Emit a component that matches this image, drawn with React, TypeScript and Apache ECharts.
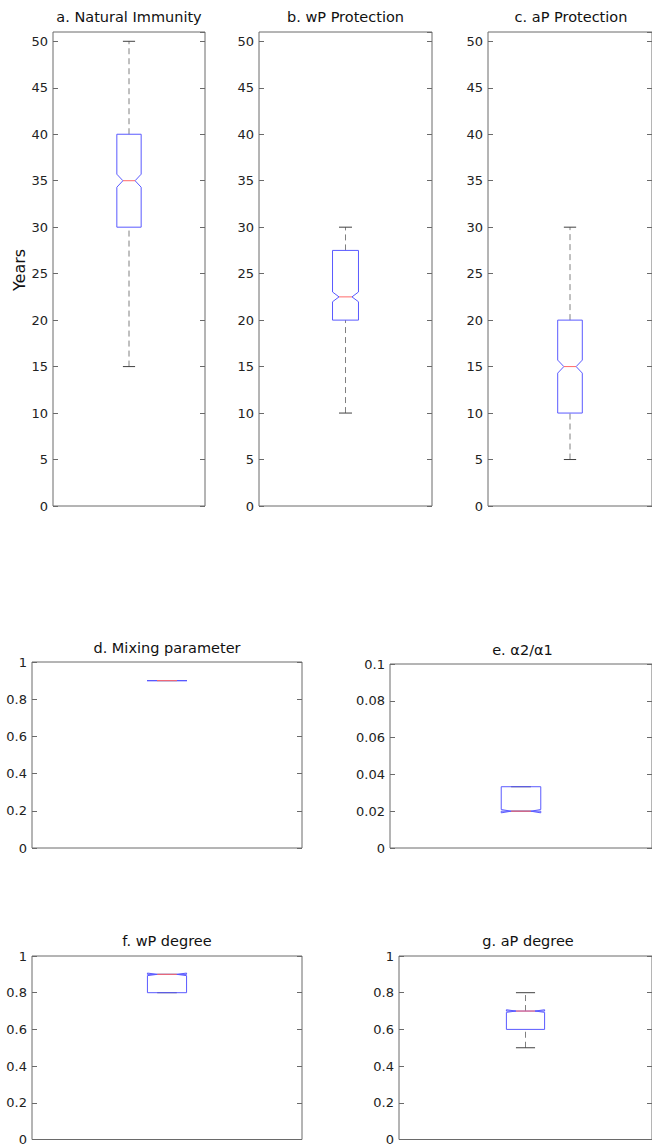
import React, { useEffect, useRef } from "react";
import * as echarts from "echarts";

// ---- data ----
const panelTitles = [
  "a. Natural Immunity",
  "b. wP Protection",
  "c. aP Protection",
  "d. Mixing parameter",
  "e. α2/α1",
  "f. wP degree",
  "g. aP degree",
];
const whiskerLow = [15, 10, 5, 0.9, 0.02, 0.8, 0.5];
const quartile1 = [30, 20, 10, 0.9, 0.02, 0.8, 0.6];
const medians = [35, 22.5, 15, 0.9, 0.02, 0.9, 0.7];
const quartile3 = [40, 27.5, 20, 0.9, 0.0333, 0.9, 0.7];
const whiskerHigh = [50, 30, 30, 0.9, 0.0333, 0.9, 0.8];
const notchHalf = [0.7, 0.525, 0.7, 0, 0.0009, 0.007, 0.007];
const yMin = [0, 0, 0, 0, 0, 0, 0];
const yMax = [51, 51, 51, 1, 0.1, 1, 1];
const yStep = [5, 5, 5, 0.2, 0.02, 0.2, 0.2];
const yAxisTitle = "Years";

// ---- layout / styles ----
const grids = [
  { left: 53, top: 32, width: 152, height: 474 },
  { left: 259, top: 32, width: 173, height: 474 },
  { left: 488, top: 32, width: 166, height: 474 },
  { left: 32, top: 662, width: 270, height: 186 },
  { left: 390, top: 664, width: 265, height: 184 },
  { left: 32, top: 956, width: 270, height: 184 },
  { left: 399, top: 956, width: 258, height: 185 },
];
const boxWidths = [0.16, 0.15, 0.15, 0.148, 0.151, 0.145, 0.151];
const titleY = [16.5, 16.5, 16.5, 648, 650, 941, 941];

const FONT = "DejaVu Sans";
const BOX_COLOR = "#5a5aff";
const MED_COLOR = "#ff6a6a";
const WHISK_COLOR = "#808080";
const CAP_COLOR = "#404040";
const FRAME_COLOR = "#6a6a6a";

export default function App() {
  const ref = useRef<HTMLDivElement>(null);

  useEffect(() => {
    if (!ref.current) return;
    const chart = echarts.init(ref.current, undefined, { renderer: "svg" });

    const gridOpts: any[] = [];
    const xAxes: any[] = [];
    const yAxes: any[] = [];
    const series: any[] = [];
    const graphics: any[] = [];

    panelTitles.forEach((title, i) => {
      const g = grids[i];
      gridOpts.push({
        ...g,
        show: true,
        borderColor: FRAME_COLOR,
        borderWidth: 1,
        backgroundColor: "transparent",
        containLabel: false,
      });
      xAxes.push({
        type: "value",
        gridIndex: i,
        min: 0,
        max: 1,
        show: false,
      });
      const common = {
        type: "value",
        gridIndex: i,
        min: yMin[i],
        max: yMax[i],
        interval: yStep[i],
        splitLine: { show: false },
        axisLine: { show: false },
        axisTick: {
          show: true,
          inside: true,
          length: 5,
          lineStyle: { color: FRAME_COLOR, width: 1 },
        },
      };
      yAxes.push({
        ...common,
        position: "left",
        axisLabel: {
          show: true,
          margin: 5,
          fontSize: 13,
          fontFamily: FONT,
          color: "#222",
          showMaxLabel: yMax[i] % yStep[i] < 1e-9 || Math.abs((yMax[i] / yStep[i]) - Math.round(yMax[i] / yStep[i])) < 1e-6,
        },
      });
      yAxes.push({
        ...common,
        position: "right",
        axisLabel: { show: false },
      });

      const bw = boxWidths[i];
      series.push({
        type: "custom",
        xAxisIndex: i,
        yAxisIndex: i * 2,
        data: [[0.5, whiskerLow[i], quartile1[i], medians[i], quartile3[i], whiskerHigh[i], notchHalf[i]]],
        encode: { x: 0, y: [1, 2, 3, 4, 5] },
        renderItem: (_params: any, api: any) => {
          const x = api.value(0);
          const wl = api.value(1);
          const q1 = api.value(2);
          const md = api.value(3);
          const q3 = api.value(4);
          const wh = api.value(5);
          const n = api.value(6);
          const hw = bw / 2;
          const L = x - hw;
          const R = x + hw;
          const c = (a: number, b: number) => api.coord([a, b]);
          const children: any[] = [];
          const dashed = { stroke: WHISK_COLOR, lineWidth: 1, lineDash: [6, 4] };
          if (wh > q3) {
            const a = c(x, q3), b = c(x, wh);
            children.push({ type: "line", shape: { x1: a[0], y1: a[1], x2: b[0], y2: b[1] }, style: dashed });
          }
          if (wl < q1) {
            const a = c(x, wl), b = c(x, q1);
            children.push({ type: "line", shape: { x1: a[0], y1: a[1], x2: b[0], y2: b[1] }, style: dashed });
          }
          [wl, wh].forEach((v) => {
            const a = c(x - hw / 2, v), b = c(x + hw / 2, v);
            children.push({
              type: "line",
              shape: { x1: a[0], y1: a[1], x2: b[0], y2: b[1] },
              style: { stroke: CAP_COLOR, lineWidth: 1 },
            });
          });
          const pts = [
            c(L, q1),
            c(L, md - n),
            c(L + hw / 2, md),
            c(L, md + n),
            c(L, q3),
            c(R, q3),
            c(R, md + n),
            c(R - hw / 2, md),
            c(R, md - n),
            c(R, q1),
          ];
          children.push({
            type: "polygon",
            shape: { points: pts },
            style: { fill: "none", stroke: BOX_COLOR, lineWidth: 1 },
          });
          const m1 = c(L + hw / 2, md), m2 = c(R - hw / 2, md);
          children.push({
            type: "line",
            shape: { x1: m1[0], y1: m1[1], x2: m2[0], y2: m2[1] },
            style: { stroke: MED_COLOR, lineWidth: 1 },
          });
          return { type: "group", children };
        },
        silent: true,
      });

      graphics.push({
        type: "text",
        x: g.left + g.width / 2,
        y: titleY[i],
        style: {
          text: title,
          align: "center",
          verticalAlign: "middle",
          fontSize: 14.5,
          fontFamily: FONT,
          fill: "#111",
        },
      });
    });

    graphics.push({
      type: "text",
      x: 19,
      y: 270,
      rotation: Math.PI / 2,
      style: {
        text: yAxisTitle,
        align: "center",
        verticalAlign: "middle",
        fontSize: 16,
        fontFamily: FONT,
        fill: "#111",
      },
    });

    chart.setOption({
      animation: false,
      backgroundColor: "#ffffff",
      textStyle: { fontFamily: FONT },
      grid: gridOpts,
      xAxis: xAxes,
      yAxis: yAxes,
      series,
      graphic: graphics,
    });

    return () => chart.dispose();
  }, []);

  return (
    <div
      ref={ref}
      style={{ position: "absolute", left: 0, top: 0, width: 652, height: 1146 }}
    />
  );
}
